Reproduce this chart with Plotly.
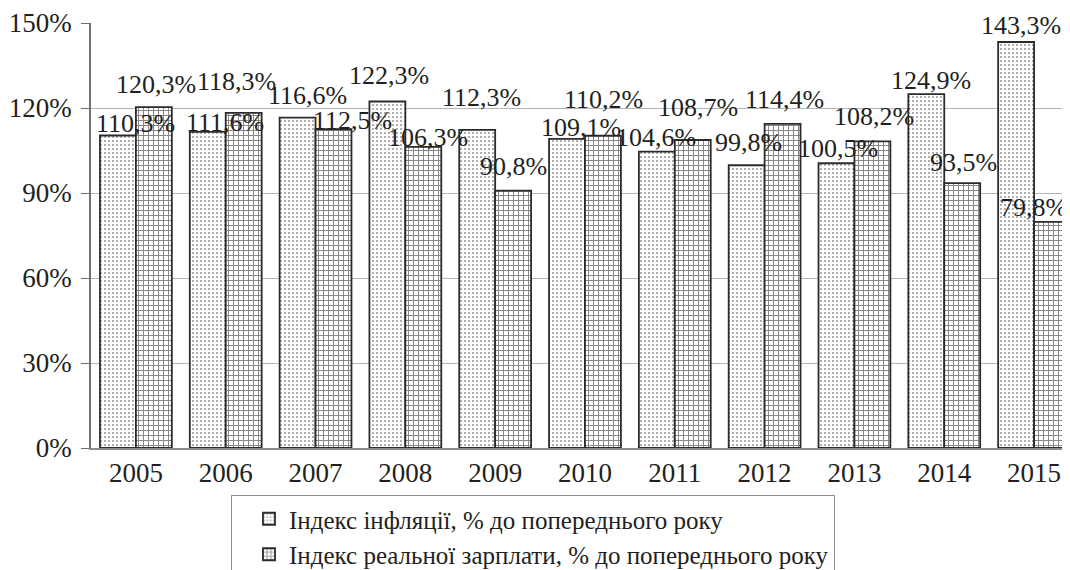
import plotly.graph_objects as go

years = ["2005", "2006", "2007", "2008", "2009", "2010", "2011", "2012", "2013", "2014", "2015"]
inflation = [110.3, 111.6, 116.6, 122.3, 112.3, 109.1, 104.6, 99.8, 100.5, 124.9, 143.3]
wage = [120.3, 118.3, 112.5, 106.3, 90.8, 110.2, 108.7, 114.4, 108.2, 93.5, 79.8]
y_ticks = [0, 30, 60, 90, 120, 150]

name_inf = "Індекс інфляції, % до попереднього року"
name_wage = "Індекс реальної зарплати, % до попереднього року"

# label offsets (pixels) relative to category centre / bar top, mimicking the reference placement
inf_dx = [0, -1, -8, -16, -14, -4, -19, -16, -16, -13, -13]
inf_dy = [12, 9, 22, 26, 32, 11, 14, 23, 15, 14, 16]
wage_dx = [20, 11, 37, 23, 18, 19, 23, 20, 20, 19, -1]
wage_dy = [23, 31, 9, 9, 24, 36, 33, 24, 25, 21, 14]

FONT = "Liberation Serif, Times New Roman, serif"
TXT = "#231f20"

# page body has an 8px margin in the browser; compensate so the plot lands where the reference has it
OFF = 8
L, T, R = 91 - OFF, 23 - OFF, 0 + OFF
B = 570 - (448 - OFF)
PW = 1070 - L - R
PH = 570 - T - B


def fmt(v):
    return f"{v:.1f}".replace(".", ",") + "%"


fig = go.Figure()
fig.add_trace(go.Bar(
    x=years, y=inflation, name=name_inf,
    marker=dict(color="white", line=dict(color="#2b2b2b", width=1.8),
                pattern=dict(shape=".", size=4, solidity=0.18, fgcolor="#222", bgcolor="white")),
))
fig.add_trace(go.Bar(
    x=years, y=wage, name=name_wage,
    marker=dict(color="white", line=dict(color="#2b2b2b", width=1.8),
                pattern=dict(shape="+", size=5, solidity=0.36, fgcolor="#111", bgcolor="white")),
))

annotations = []
for i, yr in enumerate(years):
    annotations.append(dict(x=i, y=inflation[i], xref="x", yref="y", text=fmt(inflation[i]),
                            showarrow=False, xshift=inf_dx[i], yshift=inf_dy[i],
                            font=dict(family=FONT, size=26, color=TXT)))
    annotations.append(dict(x=i, y=wage[i], xref="x", yref="y", text=fmt(wage[i]),
                            showarrow=False, xshift=wage_dx[i], yshift=wage_dy[i],
                            font=dict(family=FONT, size=26, color=TXT)))

fig.update_layout(
    width=1070, height=570,
    margin=dict(l=L, r=R, t=T, b=B, autoexpand=False),
    paper_bgcolor="white", plot_bgcolor="white",
    barmode="group", bargap=0.2, bargroupgap=0,
    font=dict(family=FONT, color=TXT),
    showlegend=True,
    legend=dict(x=(231 - 91) / PW, y=(448 - 495) / PH, xanchor="left", yanchor="top", orientation="v",
                bordercolor="#8c8c8c", borderwidth=1, bgcolor="white", indentation=17,
                entrywidth=600, entrywidthmode="pixels",
                font=dict(family=FONT, size=25, color=TXT), tracegroupgap=0),
    annotations=annotations,
)
fig.update_xaxes(type="category", range=[-0.5, 10.40], showline=True, linecolor="#8c8c8c", linewidth=1.5,
                 ticks="", tickfont=dict(family=FONT, size=27, color=TXT), fixedrange=True, automargin=False)
fig.update_yaxes(range=[0, 150], tickvals=y_ticks, ticktext=[f"{v}%" for v in y_ticks],
                 showgrid=True, gridcolor="#b4b4b4", gridwidth=1,
                 showline=True, linecolor="#707070", linewidth=1.5,
                 ticks="outside", ticklen=8, tickcolor="#707070", ticklabelstandoff=4,
                 ticklabeloverflow="allow",
                 tickfont=dict(family=FONT, size=27, color=TXT), zeroline=False, fixedrange=True,
                 automargin=False)

fig.write_html("out.html")
